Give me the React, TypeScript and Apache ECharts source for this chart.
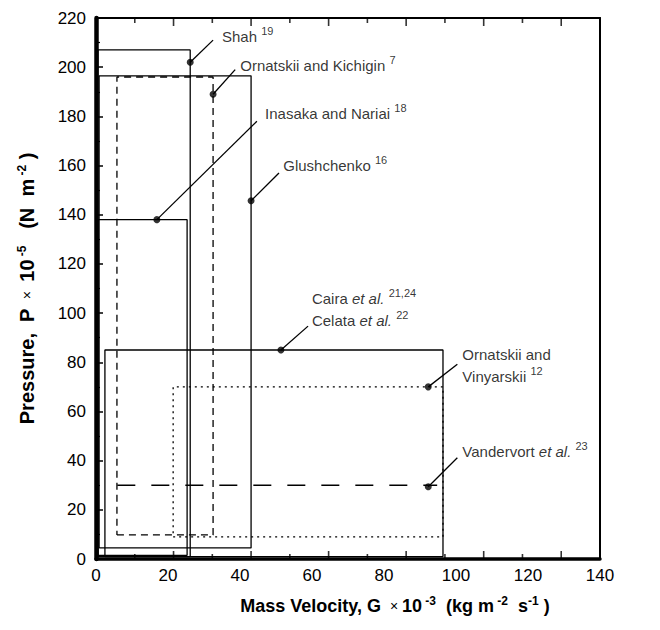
import React, { useEffect, useRef } from "react";
import * as echarts from "echarts";

// Axis tick labels (printed scale)
const xTickLabels = [0, 20, 40, 60, 80, 100, 120, 140];
const yTickLabels = [0, 20, 40, 60, 80, 100, 120, 140, 160, 180, 200, 220];
// Tick marks along the G frame (data scale)
const gTickValues = [0, 10, 20, 30, 40, 50, 60, 70, 80, 90, 100, 110, 120, 130];

// Rectangular ranges of experiments (G in 10^3 kg m-2 s-1, P in 10^5 N m-2)
const rectNames = ["Shah", "Inasaka and Nariai", "Ornatskii and Kichigin", "Glushchenko", "Caira / Celata", "Ornatskii and Vinyarskii"];
const rectGMin = [0.5, 0.5, 5.4, 0.8, 2.3, 19.9];
const rectGMax = [24.3, 23.5, 30.2, 40, 89.5, 89.5];
const rectPMin = [1, 1.5, 9.8, 4.5, 1, 9];
const rectPMax = [207, 138, 196, 196.5, 85, 70];

// Vandervort et al. range (single pressure)
const vanGRange = [5.5, 88];
const vanP = 30;

// Annotated points on each range
const annNames = ["Shah", "Ornatskii and Kichigin", "Inasaka and Nariai", "Glushchenko", "Caira", "Ornatskii and Vinyarskii", "Vandervort"];
const annDotG = [24.3, 30.2, 15.7, 40, 47.7, 85.7, 85.7];
const annDotP = [202, 189, 138, 145.7, 85, 70, 29.4];
const annEndG = [30.2, 35.9, 41.5, 47.2, 54.7, 93.2, 93.2];
const annEndP = [211, 199, 178, 157, 94.7, 79.2, 41.2];
const annTextG = [32.5, 37.2, 43.6, 48.3, 55.7, 94.5, 94.5];
const annTextP = [212.6, 200.8, 181.2, 160, 101.6, 78.8, 43.7];
const annTexts = [
  "{t|Shah }{s|19}",
  "{t|Ornatskii and Kichigin }{s|7}",
  "{t|Inasaka and Nariai }{s|18}",
  "{t|Glushchenko }{s|16}",
  "{t|Caira }{i|et al.}{t| }{s|21,24}\n{t|Celata }{i|et al.}{t| }{s|22}",
  "{t|Ornatskii and}\n{t|Vinyarskii }{s|12}",
  "{t|Vandervort }{i|et al.}{t| }{s|23}",
];

const rectDash: any[] = ["solid", "solid", [7, 5], "solid", "solid", [2, 4]];

const FONT = "Liberation Sans, Arial, Helvetica, sans-serif";

export default function App() {
  const ref = useRef<HTMLDivElement>(null);
  useEffect(() => {
    document.body.style.margin = "0";
    const chart = echarts.init(ref.current!, null, { renderer: "svg" });
    const pMax = yTickLabels[yTickLabels.length - 1];
    const series: any[] = [];
    rectNames.forEach((n, i) => {
      const x0 = rectGMin[i], x1 = rectGMax[i], y0 = rectPMin[i], y1 = rectPMax[i];
      series.push({
        name: n,
        type: "line",
        xAxisIndex: 0,
        yAxisIndex: 0,
        showSymbol: false,
        symbol: "none",
        data: [[x0, y0], [x1, y0], [x1, y1], [x0, y1], [x0, y0]],
        lineStyle: { color: "#000", width: 1.3, type: rectDash[i] },
        silent: true,
      });
    });
    series.push({
      name: "Vandervort",
      type: "line",
      xAxisIndex: 0,
      yAxisIndex: 0,
      symbol: "none",
      data: [[vanGRange[0], vanP], [vanGRange[1], vanP]],
      lineStyle: { color: "#000", width: 1.3, type: [18, 16] },
      silent: true,
    });
    annNames.forEach((n, i) => {
      series.push({
        name: n + " leader",
        type: "line",
        xAxisIndex: 0,
        yAxisIndex: 0,
        symbol: "none",
        data: [[annDotG[i], annDotP[i]], [annEndG[i], annEndP[i]]],
        lineStyle: { color: "#000", width: 1.3 },
        silent: true,
      });
    });
    series.push({
      name: "points",
      type: "scatter",
      xAxisIndex: 0,
      yAxisIndex: 0,
      symbol: "circle",
      symbolSize: 7,
      itemStyle: { color: "#000" },
      data: annDotG.map((g, i) => [g, annDotP[i]]),
      silent: true,
    });
    series.push({
      name: "labels",
      type: "scatter",
      xAxisIndex: 0,
      yAxisIndex: 0,
      symbolSize: 0,
      data: annTextG.map((g, i) => ({ value: [g, annTextP[i]], label: { formatter: annTexts[i] } })),
      label: {
        show: true,
        position: "right",
        distance: 0,
        color: "#000",
        fontFamily: FONT,
        lineHeight: 22,
        rich: {
          t: { fontSize: 15, fontFamily: FONT, color: "#000", lineHeight: 22 },
          i: { fontSize: 15, fontFamily: FONT, fontStyle: "italic", color: "#000", lineHeight: 22 },
          s: { fontSize: 11, fontFamily: FONT, color: "#000", verticalAlign: "top", lineHeight: 22, padding: [0, 0, 6, 0] },
        },
      },
      silent: true,
    });
    // frame tick marks on bottom and top edges (data scale), drawn as thin bar symbols
    const tickLen = (g: number) => (g % 20 === 0 ? 8 : 5);
    series.push({
      name: "G ticks bottom",
      type: "scatter",
      xAxisIndex: 0,
      yAxisIndex: 0,
      clip: false,
      silent: true,
      z: 10,
      symbol: "rect",
      itemStyle: { color: "#000" },
      data: gTickValues.map((g) => ({ value: [g, 0], symbolSize: [1.6, tickLen(g)], symbolOffset: [0, -tickLen(g) / 2] })),
    });
    series.push({
      name: "G ticks top",
      type: "scatter",
      xAxisIndex: 0,
      yAxisIndex: 0,
      clip: false,
      silent: true,
      z: 10,
      symbol: "rect",
      itemStyle: { color: "#000" },
      data: gTickValues.map((g) => ({ value: [g, pMax], symbolSize: [1.6, tickLen(g)], symbolOffset: [0, tickLen(g) / 2] })),
    });

    const tickAxisCommon = {
      type: "value",
      min: 0,
      max: 130,
      interval: 20,
      axisLabel: { show: false },
      axisTick: { show: false },
      splitLine: { show: false },
    };

    const titleRich = (size: number) => ({
      b: { fontSize: size, fontWeight: "bold", fontFamily: FONT, color: "#000", lineHeight: 22 },
      x: { fontSize: 14, fontFamily: FONT, color: "#000", lineHeight: 22 },
      s: { fontSize: 12, fontWeight: "bold", fontFamily: FONT, color: "#000", verticalAlign: "top", lineHeight: 22 },
    });

    const option: any = {
      animation: false,
      backgroundColor: "#fff",
      grid: { left: 96, right: 60, top: 18, bottom: 71, containLabel: false },
      xAxis: [
        {
          ...tickAxisCommon,
          position: "bottom",
          axisLine: { show: true, onZero: false, lineStyle: { color: "#000", width: 3.5 } },
        },
        {
          ...tickAxisCommon,
          position: "top",
          axisLine: { show: true, onZero: false, lineStyle: { color: "#000", width: 2 } },
        },
        {
          type: "value",
          position: "bottom",
          min: xTickLabels[0],
          max: xTickLabels[xTickLabels.length - 1],
          interval: 20,
          axisLine: { show: false, onZero: false },
          axisTick: { show: false },
          splitLine: { show: false },
          axisLabel: { color: "#000", fontSize: 17, fontFamily: FONT, margin: 8 },
          name: "{b|Mass Velocity, G }{x| × }{b|10}{s| -3}{b|  (kg m}{s| -2}{b|  s}{s|-1}{b| )}",
          nameLocation: "middle",
          nameGap: 36,
          nameTextStyle: {
            padding: [0, 0, 0, 94],
            rich: titleRich(18),
          },
        },
      ],
      yAxis: [
        {
          type: "value",
          position: "left",
          min: yTickLabels[0],
          max: pMax,
          interval: 20,
          axisLine: { show: true, onZero: false, lineStyle: { color: "#000", width: 4.5 } },
          axisTick: { show: true, inside: true, length: 7, lineStyle: { color: "#000", width: 1.5 } },
          minorTick: { show: true, splitNumber: 2, length: 4, lineStyle: { color: "#000", width: 1.2 } },
          splitLine: { show: false },
          axisLabel: { color: "#000", fontSize: 17, fontFamily: FONT, margin: 10 },
          name: "{b|Pressure,  P }{x| × }{b| 10}{s| -5}{b|   (N  m}{s| -2}{b| )}",
          nameLocation: "middle",
          nameGap: 58,
          nameTextStyle: {
            rich: titleRich(20),
          },
        },
        {
          type: "value",
          position: "right",
          min: yTickLabels[0],
          max: pMax,
          interval: 20,
          axisLine: { show: true, onZero: false, lineStyle: { color: "#000", width: 2 } },
          axisTick: { show: false },
          splitLine: { show: false },
          axisLabel: { show: false },
        },
      ],
      series,
    };
    chart.setOption(option);
    return () => chart.dispose();
  }, []);
  return <div ref={ref} style={{ width: 660, height: 630 }} />;
}
